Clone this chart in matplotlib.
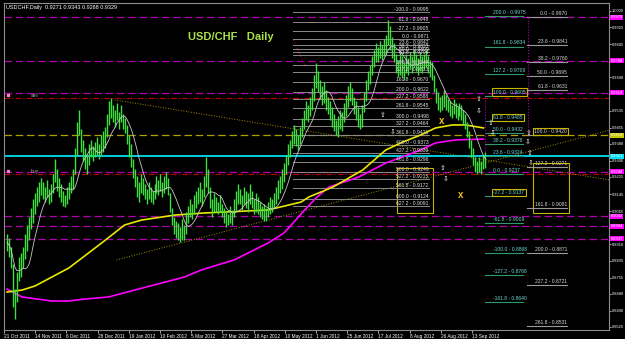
import matplotlib
matplotlib.use("Agg")
import matplotlib.pyplot as plt
import numpy as np
import pandas as pd
from matplotlib.patches import Rectangle

plt.rcParams['font.family'] = ['Liberation Sans', 'DejaVu Sans']

# daily bars (bar index = position on the chart)
highs = [
    0.8960, 0.8940, 0.8900, 0.8820, 0.8700, 0.8780, 0.8850, 0.8870, 0.8900, 0.8960,
    0.9000, 0.9040, 0.9080, 0.9120, 0.9150, 0.9180, 0.9200, 0.9220, 0.9200, 0.9180,
    0.9210, 0.9170, 0.9190, 0.9240, 0.9310, 0.9260, 0.9220, 0.9190, 0.9160, 0.9140,
    0.9180, 0.9200, 0.9230, 0.9260, 0.9360, 0.9480, 0.9540, 0.9450, 0.9400, 0.9360,
    0.9330, 0.9380, 0.9400, 0.9370, 0.9390, 0.9410, 0.9380, 0.9420, 0.9440, 0.9460,
    0.9520, 0.9580, 0.9595, 0.9560, 0.9540, 0.9570, 0.9530, 0.9560, 0.9520, 0.9500,
    0.9470, 0.9420, 0.9380, 0.9310, 0.9260, 0.9230, 0.9200, 0.9240, 0.9220, 0.9190,
    0.9170, 0.9200, 0.9180, 0.9160, 0.9190, 0.9230, 0.9210, 0.9240, 0.9200, 0.9230,
    0.9250, 0.9220, 0.9150, 0.9080, 0.9040, 0.9020, 0.9010, 0.8990, 0.9030, 0.9000,
    0.9060, 0.9090, 0.9120, 0.9100, 0.9140, 0.9160, 0.9180, 0.9200, 0.9170, 0.9230,
    0.9320, 0.9260, 0.9180, 0.9120, 0.9150, 0.9130, 0.9110, 0.9140, 0.9100, 0.9080,
    0.9060, 0.9050, 0.9090, 0.9070, 0.9120, 0.9160, 0.9190, 0.9170, 0.9140, 0.9180,
    0.9160, 0.9150, 0.9190, 0.9160, 0.9120, 0.9150, 0.9130, 0.9110, 0.9090, 0.9100,
    0.9080, 0.9110, 0.9130, 0.9120, 0.9150, 0.9180, 0.9210, 0.9230, 0.9260, 0.9290,
    0.9330, 0.9380, 0.9400, 0.9440, 0.9470, 0.9450, 0.9420, 0.9460, 0.9500, 0.9540,
    0.9580, 0.9560, 0.9600, 0.9640, 0.9700, 0.9757, 0.9720, 0.9680, 0.9650, 0.9670,
    0.9630, 0.9600, 0.9580, 0.9550, 0.9520, 0.9490, 0.9510, 0.9540, 0.9530, 0.9570,
    0.9610, 0.9650, 0.9670, 0.9640, 0.9600, 0.9580, 0.9550, 0.9520, 0.9560, 0.9620,
    0.9680, 0.9720, 0.9750, 0.9790, 0.9820, 0.9850, 0.9830, 0.9860, 0.9840, 0.9870,
    0.9890, 0.9958, 0.9930, 0.9880, 0.9850, 0.9800, 0.9770, 0.9810, 0.9790, 0.9760,
    0.9800, 0.9780, 0.9810, 0.9790, 0.9820, 0.9800, 0.9780, 0.9810, 0.9790, 0.9800,
    0.9820, 0.9790, 0.9770, 0.9760, 0.9700, 0.9640, 0.9620, 0.9600, 0.9610, 0.9630,
    0.9610, 0.9590, 0.9580, 0.9560, 0.9590, 0.9570, 0.9550, 0.9570, 0.9560, 0.9540,
    0.9520, 0.9480, 0.9440, 0.9400, 0.9360, 0.9320, 0.9300, 0.9320, 0.9300, 0.9330,
    0.9343]
lows = [
    0.8880, 0.8850, 0.8800, 0.8620, 0.8560, 0.8640, 0.8740, 0.8760, 0.8800, 0.8840,
    0.8880, 0.8930, 0.8980, 0.9010, 0.9050, 0.9090, 0.9110, 0.9140, 0.9120, 0.9110,
    0.9130, 0.9100, 0.9110, 0.9150, 0.9200, 0.9160, 0.9130, 0.9110, 0.9090, 0.9085,
    0.9100, 0.9120, 0.9150, 0.9170, 0.9240, 0.9330, 0.9420, 0.9340, 0.9300, 0.9260,
    0.9240, 0.9280, 0.9320, 0.9300, 0.9320, 0.9330, 0.9310, 0.9330, 0.9340, 0.9360,
    0.9410, 0.9470, 0.9500, 0.9480, 0.9460, 0.9490, 0.9450, 0.9480, 0.9450, 0.9430,
    0.9380, 0.9320, 0.9270, 0.9220, 0.9180, 0.9130, 0.9110, 0.9150, 0.9140, 0.9120,
    0.9100, 0.9120, 0.9110, 0.9100, 0.9120, 0.9150, 0.9140, 0.9160, 0.9130, 0.9150,
    0.9170, 0.9140, 0.9060, 0.9000, 0.8960, 0.8940, 0.8930, 0.8920, 0.8930, 0.8930,
    0.8960, 0.9010, 0.9040, 0.9030, 0.9050, 0.9080, 0.9100, 0.9110, 0.9090, 0.9130,
    0.9180, 0.9150, 0.9080, 0.9040, 0.9060, 0.9060, 0.9050, 0.9060, 0.9040, 0.9010,
    0.8990, 0.9000, 0.9010, 0.9000, 0.9040, 0.9070, 0.9100, 0.9100, 0.9070, 0.9100,
    0.9080, 0.9060, 0.9100, 0.9080, 0.9050, 0.9060, 0.9050, 0.9040, 0.9030, 0.9020,
    0.9020, 0.9040, 0.9050, 0.9060, 0.9080, 0.9100, 0.9120, 0.9150, 0.9170, 0.9200,
    0.9240, 0.9280, 0.9320, 0.9360, 0.9380, 0.9370, 0.9350, 0.9380, 0.9410, 0.9450,
    0.9490, 0.9480, 0.9510, 0.9540, 0.9580, 0.9640, 0.9620, 0.9590, 0.9560, 0.9570,
    0.9540, 0.9520, 0.9490, 0.9460, 0.9440, 0.9420, 0.9412, 0.9450, 0.9440, 0.9480,
    0.9510, 0.9550, 0.9580, 0.9560, 0.9520, 0.9490, 0.9460, 0.9450, 0.9460, 0.9530,
    0.9580, 0.9630, 0.9660, 0.9700, 0.9740, 0.9760, 0.9760, 0.9780, 0.9770, 0.9790,
    0.9800, 0.9840, 0.9820, 0.9780, 0.9760, 0.9710, 0.9690, 0.9700, 0.9690, 0.9680,
    0.9710, 0.9700, 0.9730, 0.9710, 0.9740, 0.9720, 0.9700, 0.9720, 0.9710, 0.9730,
    0.9740, 0.9710, 0.9690, 0.9680, 0.9620, 0.9570, 0.9540, 0.9530, 0.9540, 0.9550,
    0.9540, 0.9530, 0.9510, 0.9500, 0.9520, 0.9500, 0.9490, 0.9510, 0.9490, 0.9470,
    0.9450, 0.9410, 0.9360, 0.9320, 0.9280, 0.9250, 0.9240, 0.9250, 0.9240, 0.9260,
    0.9268]

ma_yellow_x = [0, 7.5, 14, 31, 47.5, 59, 67.5, 84, 99, 131, 147.5, 151.5, 163.5, 178.5, 190, 198.5, 207.5, 215, 223.5, 230, 239]
ma_yellow_y = [0.8688, 0.8697, 0.8716, 0.8800, 0.8917, 0.9001, 0.9024, 0.9047, 0.9057, 0.9071, 0.9108, 0.9132, 0.9178, 0.9258, 0.9351, 0.9388, 0.9421, 0.9454, 0.9468, 0.9468, 0.9454]
ma_magenta_x = [0, 7.5, 22.5, 31, 39, 51, 64, 77.5, 89, 97.5, 114, 131, 139, 147.5, 155, 161.5, 176.5, 190, 207.5, 215, 225, 239]
ma_magenta_y = [0.8702, 0.8665, 0.8646, 0.8646, 0.8655, 0.8665, 0.8697, 0.8730, 0.8758, 0.8791, 0.8838, 0.8917, 0.8964, 0.9052, 0.9127, 0.9178, 0.9225, 0.9290, 0.9351, 0.9384, 0.9398, 0.9402]

price_ticks = [1.0000, 0.9925, 0.9845, 0.9770, 0.9690, 0.9615, 0.9535, 0.9455, 0.9380, 0.9300,
               0.9225, 0.9145, 0.9065, 0.8990, 0.8910, 0.8835, 0.8755, 0.8680, 0.8600, 0.8525]
date_labels = ["21 Oct 2011", "14 Nov 2011", "6 Dec 2011", "28 Dec 2011", "19 Jan 2012", "10 Feb 2012",
               "5 Mar 2012", "27 Mar 2012", "18 Apr 2012", "10 May 2012", "1 Jun 2012", "25 Jun 2012",
               "17 Jul 2012", "8 Aug 2012", "26 Aug 2012", "13 Sep 2012"]
date_pos = [-1.5, 14.2, 29.8, 45.5, 61.1, 76.8, 92.4, 108.1, 123.7, 139.4, 155.0, 170.7, 186.3, 202.0, 217.6, 233.3]

# horizontal levels
magenta_levels = [0.9970, 0.9768, 0.9619, 0.9249, 0.9042, 0.8994, 0.8937]
red_levels = [0.9594, 0.9239]
olive_level = 0.9419
cyan_level = 0.9321

# fibonacci sets
fib_left_lab = ["-100.0", "-61.8", "-27.2", "0.0", "23.6", "38.2", "50.0", "61.8", "100.0", "127.2", "161.8",
                "200.0", "227.2", "261.8", "300.0", "327.2", "361.8", "400.0", "427.2", "461.8", "500.0",
                "527.2", "561.8", "600.0", "627.2"]
fib_left_px = [0.9995, 0.9948, 0.9905, 0.9871, 0.9842, 0.9823, 0.9809, 0.9794, 0.9747, 0.9713, 0.9670,
               0.9622, 0.9588, 0.9545, 0.9498, 0.9464, 0.9421, 0.9373, 0.9339, 0.9296, 0.9249,
               0.9215, 0.9172, 0.9124, 0.9091]
fib_r1_lab = ["200.0", "161.8", "127.2", "100.0", "61.8", "50.0", "38.2", "23.6", "0.0", "-27.2",
              "-61.8", "-100.0", "-127.2", "-161.8"]
fib_r1_px = [0.9975, 0.9834, 0.9706, 0.9605, 0.9485, 0.9432, 0.9378, 0.9324, 0.9237, 0.9137,
             0.9009, 0.8868, 0.8768, 0.8640]
fib_r1_boxed = ["100.0", "61.8", "-27.2"]
fib_r2_lab = ["0.0", "23.6", "38.2", "50.0", "61.8", "100.0", "127.2", "161.8", "200.0", "227.2", "261.8"]
fib_r2_px = [0.9970, 0.9841, 0.9760, 0.9695, 0.9631, 0.9420, 0.9271, 0.9081, 0.8871, 0.8721, 0.8531]

# trend lines (bar, price)
trend_down = ([54, 302.5], [0.9585, 0.9211])
trend_up = ([55, 302.5], [0.8838, 0.9444])
trend_red = ([143.5, 150], [0.9865, 0.9739])

up_arrows = [(188.5, 0.9514), (218.5, 0.9267), (236.5, 0.9589), (242.5, 0.9477), (261.5, 0.9430), (262, 0.9337)]
down_arrows = [(193.5, 0.9435), (220, 0.9216), (236.5, 0.9533), (243.5, 0.9430), (261, 0.9388), (262.5, 0.9290)]
crosses = [(218, 0.9486), (227.5, 0.9141)]

x = np.arange(len(highs))
hi = np.array(highs)
lo = np.array(lows)
ma_fast = pd.Series((hi + lo) / 2).rolling(9, min_periods=1).mean()

fig = plt.figure(figsize=(6.25, 3.39), dpi=100, facecolor='black')
ax = fig.add_axes([4/625, 9/339, 605/625, 327/339])
ax.set_facecolor('black')
ax.set_xlim(-0.5, 302)
ax.set_ylim(0.85107, 1.00373)
for s in ax.spines.values():
    s.set_color('#8c8c8c')
    s.set_linewidth(0.8)

fs = 3.6

# full width horizontal lines
for p in magenta_levels:
    ax.axhline(p, color='#b000b0', lw=0.9, ls=(0, (6, 3)))
for p in red_levels:
    ax.axhline(p, color='#c00000', lw=0.8, ls=(0, (5, 2, 1, 2)))
ax.axhline(olive_level, color='#b0a000', lw=0.9, ls=(0, (6, 3)))
ax.axhline(cyan_level, color='#00d0e0', lw=1.4)

# trend lines
ax.plot(*trend_down, color='#a09000', lw=0.7, ls=':')
ax.plot(*trend_up, color='#a09000', lw=0.7, ls=':')
ax.plot(*trend_red, color='#a00030', lw=0.8, ls=':')

# left fib cluster
for lab, p in zip(fib_left_lab, fib_left_px):
    ax.plot([143.5, 211.5], [p, p], color='#8a8a8a', lw=0.7)
    ax.text(211.5, p, f"{lab} - {p:.4f}", fontsize=fs, color='#e0e0e0', ha='right', va='bottom')
ax.add_patch(Rectangle((195.5, 0.9057), 18, 0.0210, fill=False, ec='#c8b400', lw=0.8))

# right fib set 1
for lab, p in zip(fib_r1_lab, fib_r1_px):
    ax.plot([240, 259], [p, p], color='#2e9a6a', lw=0.8)
    box = dict(boxstyle='square,pad=0.25', fc='none', ec='#c8b400', lw=0.8) if lab in fib_r1_boxed else None
    ax.text(244, p + 0.0005, f"{lab} - {p:.4f}", fontsize=fs, color='#70d8d0', ha='left', va='bottom', bbox=box)

# right fib set 2
for lab, p in zip(fib_r2_lab, fib_r2_px):
    ax.plot([261, 281], [p, p], color='#9a9a9a', lw=0.8)
    box = dict(boxstyle='square,pad=0.25', fc='none', ec='#c8b400', lw=0.8) if lab == "100.0" else None
    ax.text(281, p + 0.0005, f"{lab} - {p:.4f}", fontsize=fs, color='#d8d8d8', ha='right', va='bottom', bbox=box)
ax.add_patch(Rectangle((264, 0.9057), 18, 0.0234, fill=False, ec='#c8b400', lw=0.8))

# vertical dotted markers
ax.plot([240, 240], [0.9600, 0.9300], color='#b000b0', lw=0.8, ls=':')
ax.plot([261.5, 261.5], [0.9970, 0.9430], color='#b000b0', lw=0.8, ls=':')

# moving averages
ax.plot(ma_magenta_x, ma_magenta_y, color='#ff00ff', lw=1.2)
ax.plot(ma_yellow_x, ma_yellow_y, color='#e8e800', lw=1.2)

# price bars
ax.vlines(x, lo, hi, colors='#3ee03e', lw=1.0)
ax.plot(x, ma_fast, color='#c8c8c8', lw=0.6)

# arrows and crosses
for bx, p in up_arrows:
    ax.text(bx, p, '\u21e7', fontsize=5, color='white', ha='center', va='center', family='DejaVu Sans')
for bx, p in down_arrows:
    ax.text(bx, p, '\u21e9', fontsize=5, color='white', ha='center', va='center', family='DejaVu Sans')
for bx, p in crosses:
    ax.text(bx, p, 'x', fontsize=7, color='#f0c020', fontweight='bold', ha='center', va='center')

# sell / buy tags
for lab, p in [("sell", red_levels[0]), ("buy", red_levels[1])]:
    ax.plot(0.5, p + 0.0012, 's', ms=1.5, color='#ff80c0')
    ax.text(12, p + 0.0012, lab, fontsize=fs, color='#b0b0b0', ha='left', va='center')

ax.text(91, 0.9879, "USD/CHF   Daily", fontsize=8, fontweight='bold', color='#a8e04a', ha='left', va='center')
fig.text(6/625, 1 - 7/339, "USDCHF,Daily  0.9271 0.9343 0.9268 0.9329", fontsize=4, color='white', va='center')

# highlighted price labels on the right axis
hl = [(p, '#ff00ff') for p in magenta_levels] + [(olive_level, '#c8c800'), (cyan_level, '#00e0f0')]
hl_prices = [p for p, c in hl]

# axes ticks (labels hidden where a highlight box covers them)
ax.yaxis.tick_right()
ax.set_yticks(price_ticks)
ax.set_yticklabels(["" if min(abs(p - q) for q in hl_prices) < 0.0012 else f"{p:.4f}" for p in price_ticks])
ax.set_xticks(date_pos)
ax.set_xticklabels(date_labels, ha='left')
ax.tick_params(axis='x', colors='#c8c8c8', labelcolor='white', labelsize=3.4, length=1.8, width=0.6, pad=0.8)
ax.tick_params(axis='y', colors='#c8c8c8', labelcolor='white', labelsize=2.9, length=1.4, width=0.6, pad=0.4)

for p, c in hl:
    ax.text(1.003, p, f"{p:.4f}", transform=ax.get_yaxis_transform(), fontsize=2.9, color='white',
            ha='left', va='center', bbox=dict(boxstyle='square,pad=0.12', fc=c, ec='none'))

fig.savefig("out.png", dpi=100, facecolor='black')
